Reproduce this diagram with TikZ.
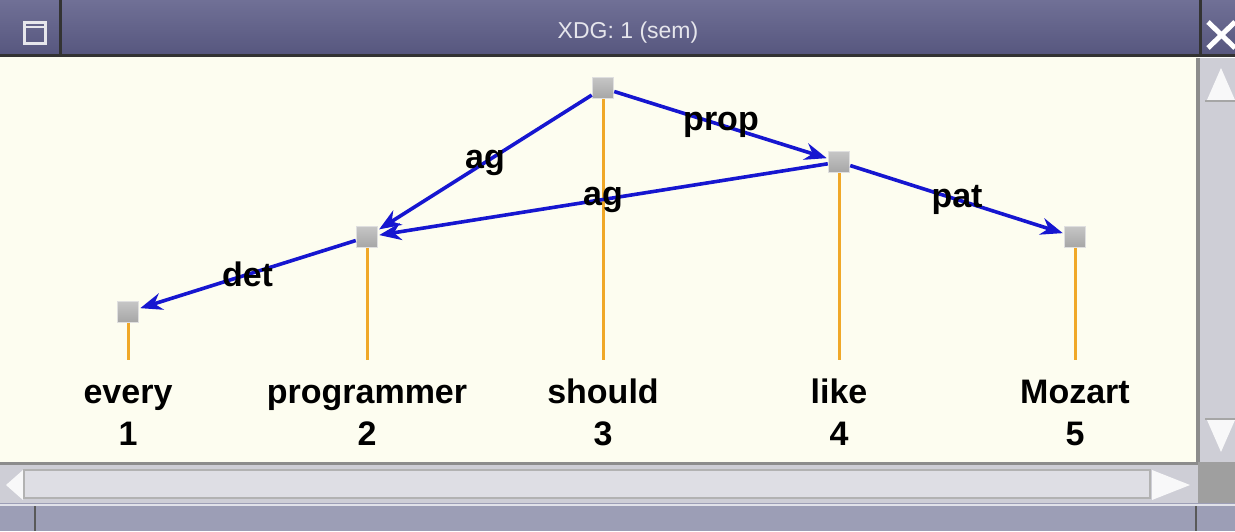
\documentclass[tikz,border=0pt]{standalone}
\usepackage{fontspec}
\setmainfont{Liberation Sans}
\usepackage{xcolor}
\usetikzlibrary{arrows.meta}

\definecolor{titlebar}{RGB}{86,86,126}
\definecolor{titletop}{RGB}{112,112,150}
\definecolor{canvas}{RGB}{253,253,240}
\definecolor{edgeblue}{RGB}{22,22,208}
\definecolor{stemorange}{RGB}{240,168,40}
\definecolor{trough}{RGB}{206,206,214}
\definecolor{slider}{RGB}{222,222,228}
\definecolor{statusbar}{RGB}{156,158,182}

\begin{document}
\begin{tikzpicture}[x=1pt,y=-1pt,
  wordnode/.style={draw=gray!25, top color=gray!45, bottom color=gray!70, minimum size=21pt, inner sep=0pt, line width=1.5pt},
  dep/.style={draw=edgeblue, line width=3.6pt, -{Stealth[length=22pt,width=17pt]}, shorten >=1pt},
  deplabel/.style={font=\fontsize{34}{40}\selectfont\bfseries, text=black, inner sep=0pt},
  word/.style={font=\fontsize{34}{40}\selectfont\bfseries, anchor=base, inner sep=0pt, text height=26pt},
  stem/.style={draw=stemorange, line width=3pt}]
  \useasboundingbox (0,0) rectangle (1235,531);

  % window frame
  \fill[canvas] (0,56) rectangle (1198,462);
  \shade[top color=titletop, bottom color=titlebar] (0,0) rectangle (1235,56);
  \draw[black!80, line width=3pt] (0,55) -- (1235,55);
  \draw[black!80, line width=3pt] (60,0) -- (60,55);
  \draw[black!80, line width=3pt] (1200,0) -- (1200,55);
  \draw[white!85!titlebar, line width=3pt] (24,22) rectangle (45,43);
  \draw[white!85!titlebar, line width=2pt] (24,27) -- (45,27);
  \draw[white, line width=5pt] (1208,22) -- (1235,48) (1208,48) -- (1235,22);
  \node[font=\fontsize{23}{26}\selectfont, text=white!85!titlebar] (title) at (628,33) {XDG: 1 (sem)};

  % vertical scrollbar
  \fill[trough] (1198,58) rectangle (1235,462);
  \draw[gray!90, line width=4pt] (1198,58) -- (1198,462);
  \fill[white!85!trough] (1221,68) -- (1207,100) -- (1235,100) -- cycle;
  \draw[gray!70, line width=2pt] (1205,101) -- (1235,101);
  \fill[white!85!trough] (1221,452) -- (1207,420) -- (1235,420) -- cycle;
  \draw[gray!70, line width=2pt] (1205,419) -- (1235,419);

  % horizontal scrollbar
  \fill[trough] (0,462) rectangle (1198,503);
  \fill[gray!75] (1198,462) rectangle (1235,503);
  \draw[gray!90, line width=3pt] (0,463) -- (1198,463);
  \fill[white!85!trough] (6,485) -- (23,470) -- (23,500) -- cycle;
  \filldraw[fill=slider, draw=gray!60, line width=2pt] (24,470) rectangle (1150,498);
  \fill[white!85!trough] (1190,485) -- (1152,470) -- (1152,500) -- cycle;

  % status strip
  \fill[statusbar] (0,503) rectangle (1235,531);
  \draw[white!70!statusbar, line width=2pt] (0,505) -- (1235,505);
  \draw[gray!70!black, line width=2pt] (35,506) -- (35,531);
  \draw[gray!70!black, line width=2pt] (1196,506) -- (1196,531);

  % words and indices
  \node[word] (w1) at (128,403) {every};
  \node[word] (i1) at (128,445) {1};
  \node[word] (w2) at (367,403) {programmer};
  \node[word] (i2) at (367,445) {2};
  \node[word] (w3) at (603,403) {should};
  \node[word] (i3) at (603,445) {3};
  \node[word] (w4) at (839,403) {like};
  \node[word] (i4) at (839,445) {4};
  \node[word] (w5) at (1075,403) {Mozart};
  \node[word] (i5) at (1075,445) {5};

  % dependency nodes
  \node[wordnode] (every) at (128,312) {};
  \node[wordnode] (programmer) at (367,237) {};
  \node[wordnode] (should) at (603,88) {};
  \node[wordnode] (like) at (839,162) {};
  \node[wordnode] (mozart) at (1075,237) {};

  % stems
  \draw[stem] (every.south) -- ([yshift=17pt]w1.north);
  \draw[stem] (programmer.south) -- ([yshift=17pt]w2.north);
  \draw[stem] (should.south) -- ([yshift=17pt]w3.north);
  \draw[stem] (like.south) -- ([yshift=17pt]w4.north);
  \draw[stem] (mozart.south) -- ([yshift=17pt]w5.north);

  % edges
  \draw[dep] (should) -- node[deplabel] {ag} (programmer);
  \draw[dep] (should) -- node[deplabel] {prop} (like);
  \draw[dep] (like) -- node[deplabel] {ag} (programmer);
  \draw[dep] (like) -- node[deplabel] {pat} (mozart);
  \draw[dep] (programmer) -- node[deplabel] {det} (every);
\end{tikzpicture}
\end{document}
